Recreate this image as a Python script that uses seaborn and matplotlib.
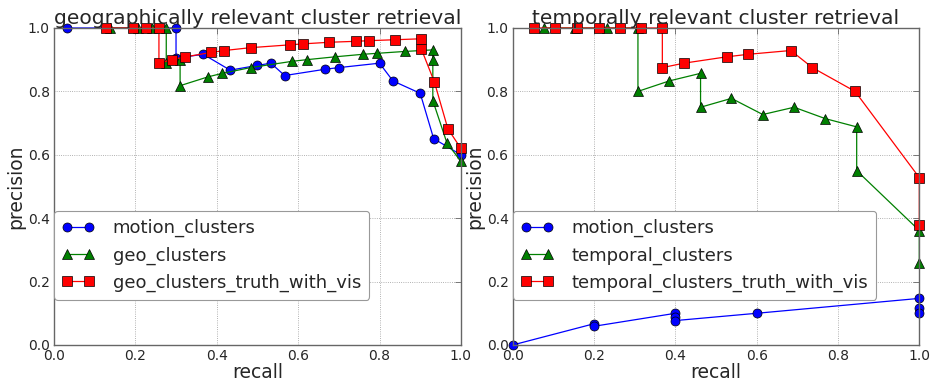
import matplotlib
matplotlib.use("Agg")
import matplotlib.pyplot as plt
import seaborn as sns
import pandas as pd

# ---- data: left panel (geographically relevant) ----
geo_motion_recall = [0.033, 0.300, 0.300, 0.367, 0.433, 0.500, 0.533, 0.567, 0.667, 0.700,
                     0.800, 0.833, 0.900, 0.933, 1.000]
geo_motion_prec = [1.000, 1.000, 0.905, 0.917, 0.867, 0.882, 0.889, 0.850, 0.870, 0.875,
                   0.889, 0.833, 0.794, 0.651, 0.600]

geo_recall = [0.138, 0.207, 0.241, 0.276, 0.276, 0.310, 0.310, 0.379, 0.414, 0.483, 0.586,
              0.621, 0.690, 0.759, 0.793, 0.862, 0.931, 0.931, 0.931, 0.966, 1.000]
geo_prec = [1.000, 1.000, 1.000, 1.000, 0.889, 0.900, 0.818, 0.846, 0.857, 0.875, 0.895,
            0.900, 0.909, 0.917, 0.920, 0.926, 0.931, 0.900, 0.771, 0.636, 0.580]

geo_truth_recall = [0.129, 0.194, 0.226, 0.258, 0.258, 0.290, 0.323, 0.387, 0.419, 0.484,
                    0.581, 0.613, 0.677, 0.742, 0.774, 0.839, 0.903, 0.903, 0.935, 0.968, 1.000]
geo_truth_prec = [1.000, 1.000, 1.000, 1.000, 0.889, 0.900, 0.909, 0.923, 0.929, 0.938,
                  0.947, 0.950, 0.955, 0.958, 0.960, 0.963, 0.966, 0.933, 0.829, 0.682, 0.620]

# ---- data: right panel (temporally relevant) ----
tmp_motion_recall = [0.0, 0.2, 0.2, 0.4, 0.4, 0.4, 0.6, 1.0, 1.0, 1.0]
tmp_motion_prec = [0.000, 0.067, 0.059, 0.100, 0.087, 0.077, 0.100, 0.147, 0.116, 0.100]

tmp_recall = [0.077, 0.154, 0.231, 0.308, 0.308, 0.385, 0.462, 0.462, 0.538, 0.615, 0.692,
              0.769, 0.846, 0.846, 1.000, 1.000]
tmp_prec = [1.000, 1.000, 1.000, 1.000, 0.800, 0.833, 0.857, 0.750, 0.778, 0.727, 0.750,
            0.714, 0.688, 0.550, 0.361, 0.260]

tmp_truth_recall = [0.053, 0.105, 0.158, 0.211, 0.263, 0.316, 0.368, 0.368, 0.421, 0.526,
                    0.579, 0.684, 0.737, 0.842, 1.000, 1.000]
tmp_truth_prec = [1.000, 1.000, 1.000, 1.000, 1.000, 1.000, 1.000, 0.875, 0.889, 0.909,
                  0.917, 0.929, 0.875, 0.800, 0.528, 0.380]

titles = ["geographically relevant cluster retrieval", "temporally relevant cluster retrieval"]
left_labels = ["motion_clusters", "geo_clusters", "geo_clusters_truth_with_vis"]
right_labels = ["motion_clusters", "temporal_clusters", "temporal_clusters_truth_with_vis"]
ticks = [0.0, 0.2, 0.4, 0.6, 0.8, 1.0]
tick_labels = ["0.0", "0.2", "0.4", "0.6", "0.8", "1.0"]

sns.set_style("white")
plt.rcParams["font.family"] = ["DejaVu Sans"]

fig = plt.figure(figsize=(9.3, 3.84), dpi=100)
ax_l = fig.add_axes([0.058, 0.1016, 0.4376, 0.8255])
ax_r = fig.add_axes([0.5513, 0.1016, 0.4372, 0.8255])

styles = [("#0000ff", "o"), ("#008000", "^"), ("#ff0000", "s")]

panels = [
    (ax_l, [(geo_motion_recall, geo_motion_prec), (geo_recall, geo_prec),
            (geo_truth_recall, geo_truth_prec)], left_labels, titles[0]),
    (ax_r, [(tmp_motion_recall, tmp_motion_prec), (tmp_recall, tmp_prec),
            (tmp_truth_recall, tmp_truth_prec)], right_labels, titles[1]),
]

for ax, series, labels, title in panels:
    for (xs, ys), (col, mk), lab in zip(series, styles, labels):
        df = pd.DataFrame({"recall": xs, "precision": ys})
        sns.lineplot(data=df, x="recall", y="precision", ax=ax, sort=False,
                     estimator=None, color=col, marker=mk, markersize=6.5,
                     markeredgecolor="black", markeredgewidth=0.5, linewidth=0.9,
                     label=lab, legend=False, clip_on=False)
    ax.set_xlim(0, 1)
    ax.set_ylim(0, 1)
    ax.set_xticks(ticks)
    ax.set_xticklabels(tick_labels)
    ax.set_yticks(ticks)
    ax.set_yticklabels(tick_labels)
    ax.tick_params(direction="in", top=True, right=True, labelsize=10, length=4,
                   width=0.6, color="0.4", pad=3)
    ax.grid(True, linestyle=":", color="0.6", linewidth=0.6)
    for sp in ax.spines.values():
        sp.set_color("0.4")
        sp.set_linewidth(1.0)
    ax.set_xlabel("recall", fontsize=13.5, labelpad=0)
    ax.set_ylabel("precision", fontsize=13.5, labelpad=2)
    ax.set_title(title, fontsize=14.6, pad=3)
    leg = ax.legend(loc="lower left", bbox_to_anchor=(0.0, 0.142), borderaxespad=0,
                    numpoints=2, fontsize=13, fancybox=True, framealpha=1,
                    edgecolor="0.6", handlelength=1.8, borderpad=0.45,
                    labelspacing=0.5, handletextpad=1.0)
    leg.get_frame().set_linewidth(0.8)

fig.savefig("out.png", dpi=100)
